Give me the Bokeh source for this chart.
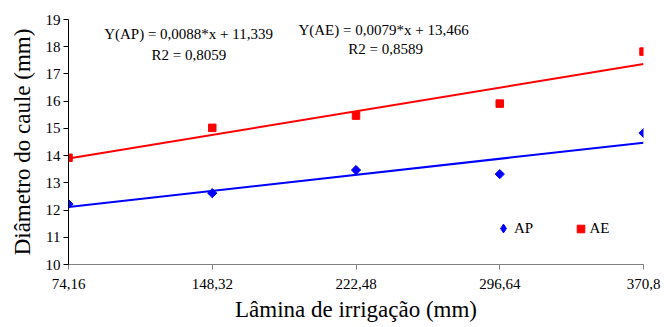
import numpy as np
from bokeh.plotting import figure
from bokeh.models import Range1d, FixedTicker, Legend, LegendItem, Label
from bokeh.embed import file_html
from bokeh.resources import INLINE

# ---- data ----
lamina = [74.16, 148.32, 222.48, 296.64, 370.8]
tick_labels = ["74,16", "148,32", "222,48", "296,64", "370,8"]
ap = [12.22, 12.62, 13.47, 13.32, 14.83]
ae = [13.92, 15.02, 15.47, 15.91, 17.82]
eq_ap = ["Y(AP) = 0,0088*x + 11,339", "R2 = 0,8059"]
eq_ae = ["Y(AE) = 0,0079*x + 13,466", "R2 = 0,8589"]

FONT = "Liberation Serif"
BLUE = "#0000FF"
RED = "#FF0000"

p = figure(width=662, height=326, output_backend="svg", toolbar_location=None,
           x_range=Range1d(74.16, 370.8), y_range=Range1d(10, 19),
           min_border_left=68, min_border_right=19, min_border_top=19,
           min_border_bottom=62)
p.outline_line_color = None
p.xgrid.grid_line_color = None
p.ygrid.grid_line_color = None
p.background_fill_color = "white"
p.border_fill_color = "white"

# trend lines (least squares fit of the data)
xs = np.array(lamina)
for ys, col in ((ap, BLUE), (ae, RED)):
    m, b = np.polyfit(xs, np.array(ys), 1)
    p.line([xs[0], xs[-1]], [m * xs[0] + b, m * xs[-1] + b], line_color=col, line_width=2)

p.scatter(lamina, ap, marker="square", angle=np.pi / 4, size=6.5,
          fill_color=BLUE, line_color=BLUE)
r_ae = p.scatter(lamina, ae, marker="square", size=7.5,
                 fill_color=RED, line_color=RED)
# legend-only renderer (nothing visible in the plot) so the legend shows a diamond
r_ap_leg = p.scatter([np.nan], [np.nan], marker="diamond", size=9,
                     fill_color=BLUE, line_color=BLUE)

# axes
p.xaxis.ticker = FixedTicker(ticks=lamina)
p.xaxis.major_label_overrides = {v: s for v, s in zip(lamina, tick_labels)}
p.yaxis.ticker = FixedTicker(ticks=list(range(10, 20)))
for ax in (p.xaxis[0], p.yaxis[0]):
    ax.major_label_text_font = FONT
    ax.major_label_text_font_size = "15px"
    ax.major_label_text_color = "black"
    ax.axis_label_text_font = FONT
    ax.axis_label_text_font_size = "23px"
    ax.axis_label_text_font_style = "normal"
    ax.axis_label_text_color = "black"
    ax.minor_tick_line_color = None
    ax.major_tick_in = 0
    ax.major_tick_out = 5
p.yaxis.major_label_standoff = 3
p.xaxis.major_label_standoff = 9
p.xaxis.axis_line_color = "#808080"
p.xaxis.major_tick_line_color = "#808080"
p.yaxis.axis_line_color = "black"
p.yaxis.major_tick_line_color = "black"
p.xaxis.axis_label = "Lâmina de irrigação (mm)"
p.yaxis.axis_label = "Diâmetro do caule (mm)"
p.xaxis.axis_label_standoff = 5
p.yaxis.axis_label_standoff = 8

# equations
for txt, x, y in ((eq_ap[0], 136.1, 18.45), (eq_ap[1], 136.3, 17.71),
                  (eq_ae[0], 236.7, 18.63), (eq_ae[1], 237.8, 17.90)):
    p.add_layout(Label(x=x, y=y, text=txt, text_align="center", text_baseline="middle",
                       text_font=FONT, text_font_size="15px", text_color="black"))

common = dict(orientation="horizontal", padding=0, margin=0, label_standoff=0,
              label_width=20, label_text_font=FONT, label_text_font_size="15px",
              label_text_color="black", border_line_alpha=0, background_fill_alpha=0)
leg_ap = Legend(items=[LegendItem(label="AP", renderers=[r_ap_leg])],
                location=(424, 25), glyph_width=22, glyph_height=22,
                label_height=22, **common)
leg_ae = Legend(items=[LegendItem(label="AE", renderers=[r_ae])],
                location=(502.5, 26.5), glyph_width=19, glyph_height=19,
                label_height=19, **common)
p.add_layout(leg_ap)
p.add_layout(leg_ae)

open("out.html", "w").write(file_html(p, INLINE))
